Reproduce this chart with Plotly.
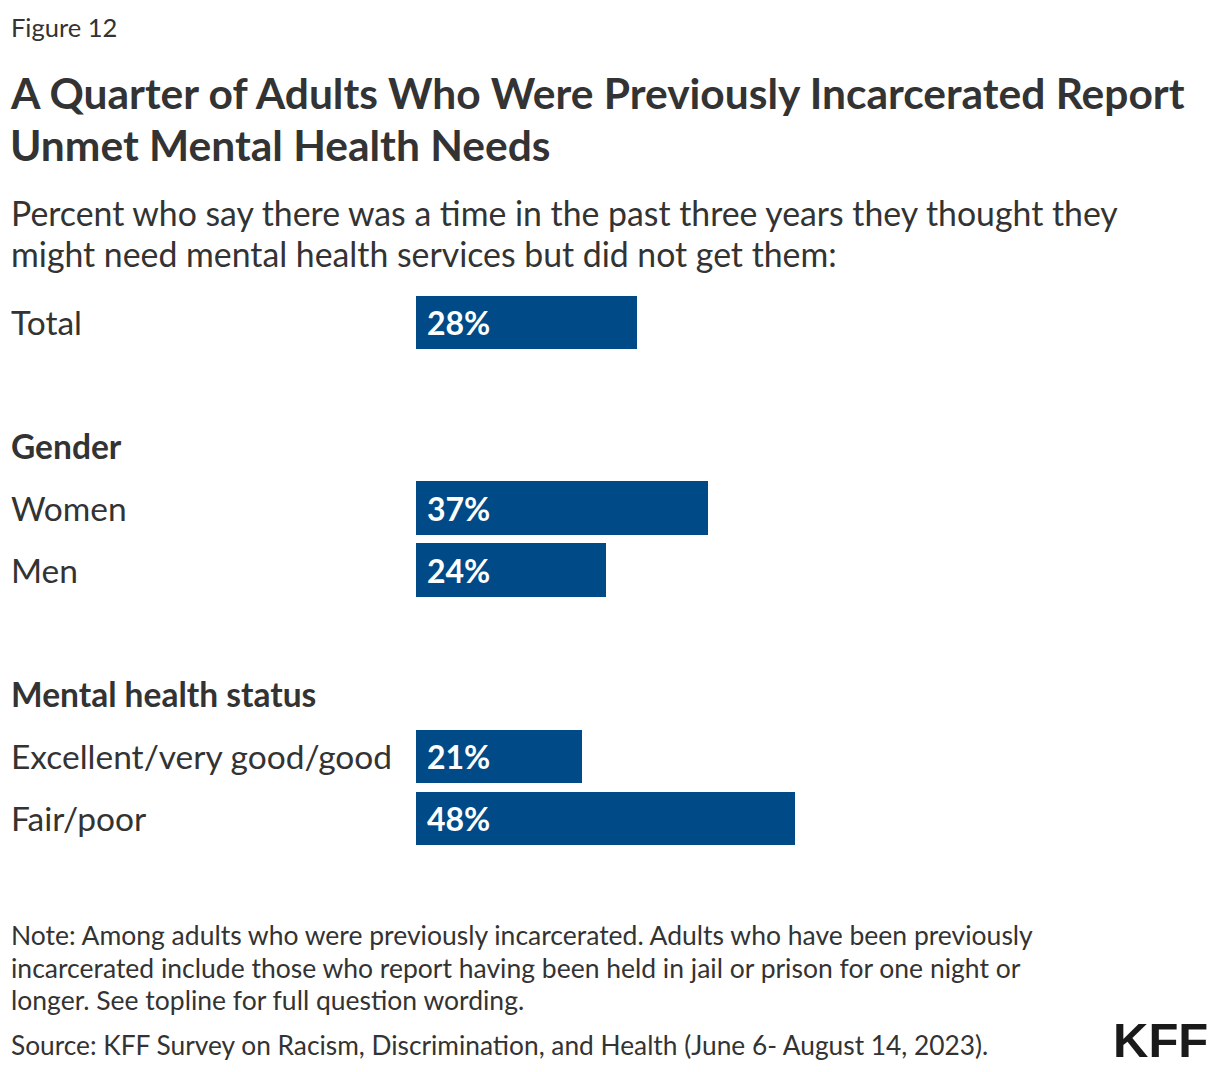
import plotly.graph_objects as go

# ---- data ----
row_labels = ["Total", "", "Gender", "Women", "Men", "", "Mental health status",
              "Excellent/very good/good", "Fair/poor"]
row_is_header = [False, False, True, False, False, False, True, False, False]
bar_categories = ["Total", "Women", "Men", "Excellent/very good/good", "Fair/poor"]
bar_values = [28, 37, 24, 21, 48]

figure_label = "Figure 12"
title_lines = ["A Quarter of Adults Who Were Previously Incarcerated Report",
               "Unmet Mental Health Needs"]
subtitle_lines = ["Percent who say there was a time in the past three years they thought they",
                  "might need mental health services but did not get them:"]
note_lines = ["Note: Among adults who were previously incarcerated. Adults who have been previously",
              "incarcerated include those who report having been held in jail or prison for one night or",
              "longer. See topline for full question wording."]
source_text = "Source: KFF Survey on Racism, Discrimination, and Health (June 6- August 14, 2023)."

# ---- layout geometry ----
W, H = 1220, 1072
L, R, T, B = 416, 14, 291, 223
PW, PH = W - L - R, H - T - B
FONT = "Lato, 'Source Sans Pro', 'Noto Sans', sans-serif"
TXT = "#333333"
BLUE = "#004a87"

def px(xp):
    return (xp - L) / PW

def py(yp):
    return (H - B - yp) / PH

ypos = [row_labels.index(c) for c in bar_categories]

fig = go.Figure(go.Bar(
    x=bar_values, y=ypos, orientation="h",
    marker=dict(color=BLUE, line=dict(width=0)),
    width=0.855, hoverinfo="skip",
))

ann = []
# row labels
for i, lab in enumerate(row_labels):
    if not lab:
        continue
    ann.append(dict(
        x=px(9), y=i, xref="paper", yref="y", xanchor="left", yanchor="middle",
        text=f"<b>{lab}</b>" if row_is_header[i] else lab,
        showarrow=False, font=dict(family=FONT, size=33.5, color=TXT),
    ))
# value labels inside bars
for v, yy in zip(bar_values, ypos):
    ann.append(dict(
        x=0, y=yy, xref="x", yref="y", xanchor="left", yanchor="middle",
        xshift=9, text=f"<b>{v}%</b>", showarrow=False,
        font=dict(family=FONT, size=32, color="white"),
    ))

def line(text, xp, yp, size, bold=False):
    return dict(x=px(xp), y=py(yp), xref="paper", yref="paper", xanchor="left",
                yanchor="middle", text=f"<b>{text}</b>" if bold else text,
                showarrow=False, font=dict(family=FONT, size=size, color=TXT))

ann.append(line(figure_label, 9, 27, 25.5))
for k, t in enumerate(title_lines):
    ann.append(line(t, 8, 92 + 52 * k, 42.5, bold=True))
for k, t in enumerate(subtitle_lines):
    ann.append(line(t, 9, 213 + 41 * k, 33.8))
for k, t in enumerate(note_lines):
    ann.append(line(t, 9, 935 + 32.5 * k, 26.5))
ann.append(line(source_text, 9, 1045, 26.3))
ann.append(dict(x=px(1210), y=py(1040), xref="paper", yref="paper", xanchor="right",
                yanchor="middle", text="<b>KFF</b>", showarrow=False,
                font=dict(family="'Liberation Sans', Arial, sans-serif", size=49, color="#1a1a1a")))

fig.update_layout(
    width=W, height=H,
    margin=dict(l=L, r=R, t=T, b=B),
    paper_bgcolor="white", plot_bgcolor="white",
    showlegend=False,
    xaxis=dict(range=[0, 100], visible=False, fixedrange=True),
    yaxis=dict(range=[len(row_labels) - 0.5, -0.5], visible=False, fixedrange=True),
    annotations=ann,
    bargap=0,
)

fig.write_html("out.html", config={"displayModeBar": False},
               post_script="document.body.style.margin='0';document.body.style.overflow='hidden';")
